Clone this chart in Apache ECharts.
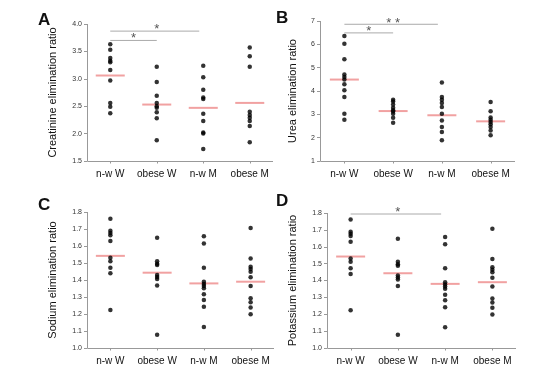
<!DOCTYPE html>
<html><head><meta charset="utf-8">
<script src="https://cdn.jsdelivr.net/npm/echarts@6/dist/echarts.min.js"></script>
<style>html,body{margin:0;padding:0;background:#fff}#c{width:547px;height:373px}</style>
</head><body><div id="c"></div>
<script>
const categories = ['n-w W', 'obese W', 'n-w M', 'obese M'];
const panelLetters = ['A', 'B', 'C', 'D'];
const axisNames = ['Creatinine elimination ratio', 'Urea elimination ratio', 'Sodium elimination ratio', 'Potassium elimination ratio'];

// individual values per group
const creatinine = [
  [3.63, 3.53, 3.38, 3.33, 3.30, 3.16, 2.97, 2.56, 2.49, 2.37],
  [3.22, 2.94, 2.69, 2.56, 2.50, 2.47, 2.39, 2.28, 1.88],
  [3.24, 3.03, 2.80, 2.66, 2.63, 2.36, 2.23, 2.02, 2.00, 1.72],
  [3.57, 3.41, 3.22, 2.40, 2.34, 2.29, 2.23, 2.14, 1.84]
];
const urea = [
  [6.36, 6.03, 5.36, 4.71, 4.60, 4.49, 4.29, 4.03, 3.74, 3.03, 2.77],
  [3.62, 3.55, 3.42, 3.28, 3.18, 3.12, 3.02, 2.85, 2.64],
  [4.36, 3.74, 3.63, 3.49, 3.31, 3.03, 2.74, 2.46, 2.24, 1.89],
  [3.53, 3.13, 2.86, 2.77, 2.67, 2.57, 2.46, 2.31, 2.10]
];
const sodium = [
  [1.761, 1.689, 1.677, 1.663, 1.630, 1.531, 1.511, 1.472, 1.439, 1.224],
  [1.648, 1.511, 1.496, 1.488, 1.429, 1.418, 1.406, 1.367, 1.078],
  [1.658, 1.615, 1.472, 1.390, 1.377, 1.365, 1.351, 1.316, 1.283, 1.242, 1.123],
  [1.706, 1.527, 1.478, 1.464, 1.449, 1.416, 1.365, 1.293, 1.269, 1.238, 1.199]
];
const potassium = [
  [1.761, 1.689, 1.677, 1.663, 1.630, 1.531, 1.511, 1.472, 1.439, 1.224],
  [1.648, 1.511, 1.496, 1.488, 1.429, 1.418, 1.406, 1.367, 1.078],
  [1.658, 1.615, 1.472, 1.390, 1.377, 1.365, 1.351, 1.316, 1.283, 1.242, 1.123],
  [1.706, 1.527, 1.478, 1.464, 1.449, 1.416, 1.365, 1.293, 1.269, 1.238, 1.199]
];

// group means (red bars)
const creatinineMean = [3.06, 2.53, 2.47, 2.56];
const ureaMean = [4.49, 3.14, 2.96, 2.70];
const sodiumMean = [1.542, 1.443, 1.380, 1.390];
const potassiumMean = [1.542, 1.443, 1.380, 1.390];

// y axis ranges
const yMin = [1.5, 1, 1.0, 1.0];
const yMax = [4.0, 7, 1.8, 1.8];
const yStep = [0.5, 1, 0.1, 0.1];
const yDecimals = [1, 0, 1, 1];

// significance brackets: [fromGroup, toGroup, lineLevel, starLevel, mark]
const bracketsA = [[0, 1, 3.70, 3.80, '*'], [0, 2, 3.87, 3.95, '*']];
const bracketsB = [[0, 1, 6.49, 6.67, '*'], [0, 2, 6.86, 7.03, '* *']];
const bracketsC = [];
const bracketsD = [[0, 2, 1.794, 1.82, '*']];

const allValues = [creatinine, urea, sodium, potassium];
const allMeans = [creatinineMean, ureaMean, sodiumMean, potassiumMean];
const allBrackets = [bracketsA, bracketsB, bracketsC, bracketsD];

const grids = [
  {left: 87, top: 24, width: 186, height: 137},
  {left: 320, top: 21, width: 195, height: 140},
  {left: 87, top: 212, width: 187, height: 136},
  {left: 327, top: 213, width: 189, height: 135}
];
const letterPos = [[38, 12], [276, 10], [38, 197], [276, 193]];

const font = 'Liberation Sans, Arial, sans-serif';
const option = {
  animation: false,
  backgroundColor: '#fff',
  textStyle: {fontFamily: font},
  title: panelLetters.map((t, i) => ({
    text: t, left: letterPos[i][0], top: letterPos[i][1], padding: 0,
    textStyle: {fontSize: 17, fontWeight: 'bold', color: '#111', fontFamily: font}
  })),
  grid: grids,
  xAxis: [], yAxis: [], series: []
};

for (let p = 0; p < 4; p++) {
  option.xAxis.push({
    type: 'category', gridIndex: p, data: categories, boundaryGap: true,
    axisLine: {show: false, onZero: false},
    axisTick: {show: false},
    splitLine: {show: false},
    axisLabel: {fontSize: 10, color: '#111', margin: 8, interval: 0}
  });
  option.yAxis.push({
    type: 'value', gridIndex: p, min: yMin[p], max: yMax[p], interval: yStep[p],
    name: axisNames[p], nameLocation: 'middle', nameGap: p === 1 ? 22 : 29,
    nameTextStyle: {fontSize: 11, color: '#111'},
    splitLine: {show: false},
    axisLine: {show: false, onZero: false},
    axisTick: {show: true, length: 3, lineStyle: {color: '#999'}},
    axisLabel: {fontSize: 7, color: '#333', margin: 5,
      formatter: v => v.toFixed(yDecimals[p])}
  });
  // axis frame (left and bottom lines, category ticks) drawn from the grid's coordinate system
  option.series.push({
    type: 'custom', xAxisIndex: p, yAxisIndex: p, clip: false, z: 1,
    data: [0], silent: true,
    renderItem: (params, api) => {
      const cs = params.coordSys;
      const left = Math.round(cs.x) + 0.5;
      const bottom = Math.round(cs.y + cs.height) + 0.5;
      const children = [
        {type: 'line', shape: {x1: left, y1: cs.y, x2: left, y2: bottom},
         style: {stroke: '#999', lineWidth: 1}},
        {type: 'line', shape: {x1: left, y1: bottom, x2: cs.x + cs.width, y2: bottom},
         style: {stroke: '#999', lineWidth: 1}}
      ];
      categories.forEach((c, g) => {
        const pt = api.coord([g, yMin[p]]);
        const tx = Math.round(pt[0]) + 0.5;
        children.push({type: 'line', shape: {x1: tx, y1: bottom, x2: tx, y2: bottom + 2},
                       style: {stroke: '#999', lineWidth: 1}});
      });
      return {type: 'group', children};
    }
  });
  // dots
  const pts = [];
  allValues[p].forEach((grp, g) => grp.forEach(v => pts.push([g, v])));
  option.series.push({
    type: 'scatter', xAxisIndex: p, yAxisIndex: p, data: pts,
    symbolSize: 4.5, itemStyle: {color: '#000'}, z: 3
  });
  // means
  option.series.push({
    type: 'scatter', xAxisIndex: p, yAxisIndex: p,
    data: allMeans[p].map((m, g) => [g, m]),
    symbol: 'rect', symbolSize: [29, 2], itemStyle: {color: '#ee8a8a'}, z: 2
  });
  // significance brackets
  if (allBrackets[p].length) {
    option.series.push({
      type: 'custom', xAxisIndex: p, yAxisIndex: p, clip: false, z: 4,
      data: allBrackets[p].map(b => [b[0], b[1], b[2], b[3]]),
      renderItem: (params, api) => {
        const b = allBrackets[p][params.dataIndex];
        const a = api.coord([b[0], b[2]]);
        const e = api.coord([b[1], b[2]]);
        const s = api.coord([b[0], b[3]]);
        const end = e[0] - (b[1] - b[0] > 1 ? 4 : 0);
        return {
          type: 'group', children: [
            {type: 'line', shape: {x1: a[0], y1: a[1], x2: end, y2: a[1]},
             style: {stroke: '#aaa', lineWidth: 1}},
            {type: 'text', x: (a[0] + e[0]) / 2, y: s[1] + 3,
             style: {text: b[4], fill: '#555', fontSize: 13, fontFamily: font,
                     align: 'center', verticalAlign: 'middle'}}
          ]
        };
      }
    });
  }
}

const chart = echarts.init(document.getElementById('c'), null, {renderer: 'canvas'});
chart.setOption(option);
</script>
</body></html>
